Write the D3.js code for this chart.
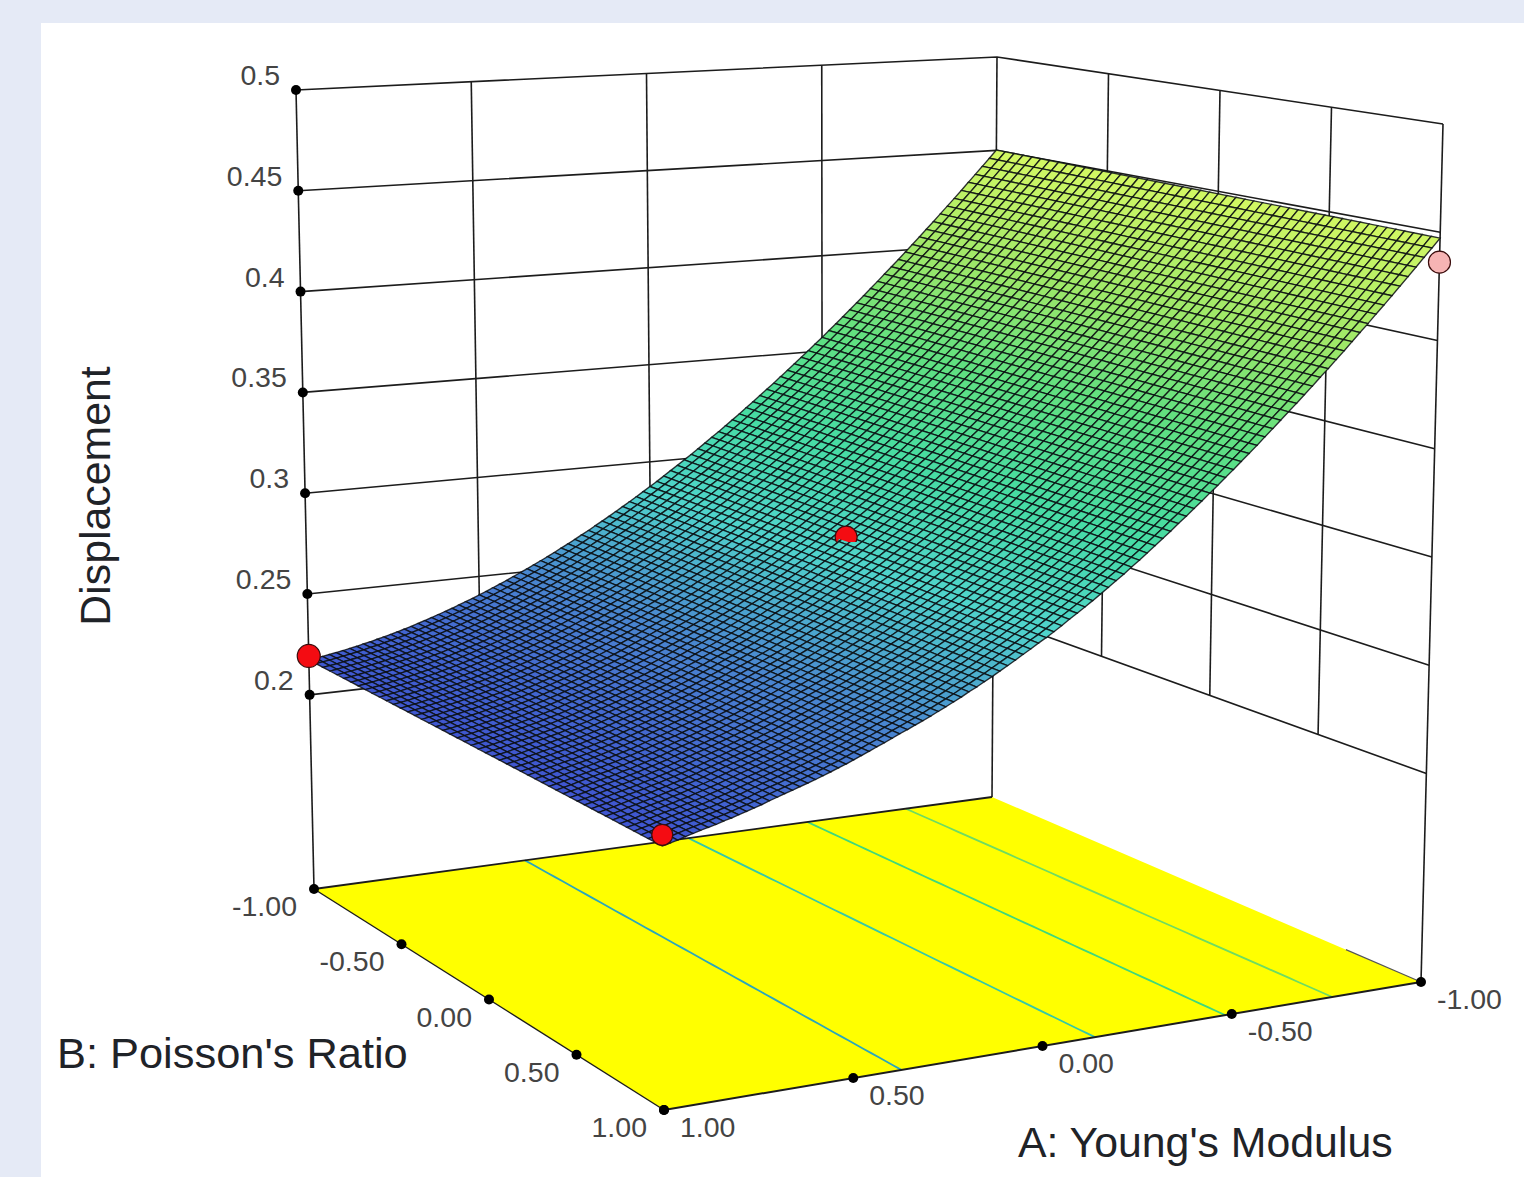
<!DOCTYPE html>
<html><head><meta charset="utf-8">
<script src="https://cdn.jsdelivr.net/npm/d3@7/dist/d3.min.js"></script>
<style>html,body{margin:0;padding:0;background:#e5eaf6;overflow:hidden}svg{display:block}
text{font-family:"Liberation Sans",Arial,sans-serif}</style></head><body>
<svg id="c" width="1524" height="1177"></svg>
<script>
// ---- data ----
const zTicks = [0.2,0.25,0.3,0.35,0.4,0.45,0.5];
const zTickLabels = ["0.2","0.25","0.3","0.35","0.4","0.45","0.5"];
const floorTicks = [-1,-0.5,0,0.5,1];
const floorTickLabels = ["-1.00","-0.50","0.00","0.50","1.00"];
const contourLevels = [0.25,0.3,0.35,0.4];
const contourColors = ["#2aa6bd","#35c8a8","#3fd87c","#6edc62"];
// design points: A, B, Displacement
const pointA = [1,1,0,-1];
const pointB = [-1,1,-0.01,1];
const pointZ = [0.2193,0.2197,0.2969,0.4362];
const pointFill = ["#f40c12","#f40c12","#f40c12","#f6b4b4"];
const pointR = [11.5,10.5,11,11];
// surface height at the B=-1 edge, one value per mesh row, going from A=1 to A=-1
const edgeBackLeft = [.2173,.2178,.2183,.2189,.2195,.2201,.2208,.2215,.2223,.2230,.2239,.2247,.2256,.2265,.2275,.2285,.2296,.2307,.2318,.2330,.2342,.2354,.2367,.2380,.2393,.2407,.2421,.2436,.2451,.2466,.2482,.2498,.2514,.2531,.2548,.2565,.2583,.2602,.2620,.2639,.2659,.2678,.2699,.2719,.2740,.2761,.2783,.2805,.2827,.2850,.2873,.2896,.2920,.2945,.2969,.2994,.3019,.3045,.3071,.3098,.3124,.3152,.3179,.3207,.3236,.3264,.3293,.3323,.3352,.3383,.3413,.3444,.3475,.3507,.3539,.3571,.3604,.3637,.3671,.3705,.3739,.3774,.3809,.3844,.3880,.3916,.3952,.3989,.4026,.4064,.4102,.4140,.4179,.4218,.4257,.4297,.4338,.4378,.4419,.4460,.4502];
// surface height at the B=1 edge, same rows
const edgeFrontRight = [.2150,.2158,.2166,.2176,.2185,.2194,.2202,.2210,.2220,.2228,.2238,.2248,.2258,.2268,.2280,.2291,.2302,.2312,.2323,.2334,.2345,.2357,.2369,.2382,.2394,.2408,.2422,.2436,.2451,.2465,.2480,.2495,.2509,.2524,.2539,.2554,.2571,.2587,.2604,.2621,.2640,.2657,.2676,.2694,.2714,.2734,.2754,.2775,.2795,.2817,.2837,.2859,.2882,.2906,.2929,.2953,.2977,.3002,.3028,.3054,.3079,.3107,.3134,.3162,.3191,.3219,.3248,.3279,.3308,.3339,.3369,.3401,.3432,.3464,.3496,.3529,.3562,.3595,.3630,.3664,.3699,.3734,.3769,.3805,.3841,.3878,.3914,.3952,.3989,.4028,.4067,.4105,.4145,.4184,.4224,.4265,.4306,.4347,.4389,.4430,.4473];
const colorStops = [0.215,0.25,0.285,0.32,0.36,0.40,0.45];
const colorValues = ["#3f55d0","#4a86d0","#50d4cc","#46dca4","#60e080","#9ee868","#d4f864"];
const columnCount = 50;

// ---- box projection (corners of the plotting box on the page) ----
const zFloor = 0.1037, zTop = 0.5;
const box = {
  floor:{lf:[314,889], back:[992,797], front:[664,1110], right:[1421,982]},
  top:{lf:[296,90], back:[997,57], front:[658,170], right:[1443,124]}
};
const uScale = d3.scaleLinear().domain([1,-1]).range([0,1]);
const vScale = d3.scaleLinear().domain([-1,1]).range([0,1]);
const wScale = d3.scaleLinear().domain([zFloor,zTop]).range([0,1]);
function plane(c,u,v){
  const x0=c.lf[0]+(c.back[0]-c.lf[0])*u, y0=c.lf[1]+(c.back[1]-c.lf[1])*u;
  const x1=c.front[0]+(c.right[0]-c.front[0])*u, y1=c.front[1]+(c.right[1]-c.front[1])*u;
  return [x0+(x1-x0)*v, y0+(y1-y0)*v];
}
function project(a,b,z){
  const u=uScale(a), v=vScale(b), w=wScale(z);
  const f=plane(box.floor,u,v), t=plane(box.top,u,v);
  return [f[0]+(t[0]-f[0])*w, f[1]+(t[1]-f[1])*w];
}
const line = d3.line();
const color = d3.scaleLinear().domain(colorStops).range(colorValues).interpolate(d3.interpolateRgb);
const rowA = d3.scaleLinear().domain([0,edgeBackLeft.length-1]).range([1,-1]);
const colB = d3.scaleLinear().domain([0,columnCount]).range([-1,1]);
function height(i,j){ const v=vScale(colB(j)); return edgeBackLeft[i]+(edgeFrontRight[i]-edgeBackLeft[i])*v; }

const svg = d3.select("#c");
svg.append("rect").attr("x",41).attr("y",23).attr("width",1483).attr("height",1154).attr("fill","#fff");
const ink="#1c1c1c";
const walls = svg.append("g").attr("fill","none").attr("stroke",ink).attr("stroke-width",1.6);
const inner = [0.5,0,-0.5];
zTicks.forEach(z=>{
  walls.append("path").attr("d",line([project(1,-1,z),project(-1,-1,z),project(-1,1,z)]));
});
inner.forEach(a=>walls.append("path").attr("d",line([project(a,-1,zTicks[0]),project(a,-1,zTop)])));
inner.forEach(b=>walls.append("path").attr("d",line([project(-1,b,zTicks[0]),project(-1,b,zTop)])));
[[1,-1],[-1,-1],[-1,1]].forEach(([a,b])=>walls.append("path").attr("d",line([project(a,b,zFloor),project(a,b,zTop)])));

// floor
svg.append("path").attr("fill","#ffff00")
  .attr("d",line([project(1,-1,zFloor),project(-1,-1,zFloor),project(-1,1,zFloor),project(1,1,zFloor)])+"Z");
// contours on the floor
contourLevels.forEach((lv,k)=>{
  const pts=d3.range(columnCount+1).map(j=>{
    let i=0; while(i<edgeBackLeft.length-2 && height(i+1,j)<lv) i++;
    const h0=height(i,j),h1=height(i+1,j);
    return project(rowA(i+(lv-h0)/(h1-h0)),colB(j),zFloor);
  });
  svg.append("path").attr("fill","none").attr("stroke",contourColors[k]).attr("stroke-width",1.8).attr("d",line(pts));
});
// floor edges
const edges = svg.append("g").attr("fill","none").attr("stroke",ink);
edges.append("path").attr("stroke-width",1.8).attr("d",line([project(1,-1,zFloor),project(-1,-1,zFloor)]));
edges.append("path").attr("stroke-width",1.4).attr("d",line([project(1,-1,zFloor),project(1,1,zFloor)]));
edges.append("path").attr("stroke-width",2).attr("d",line([project(1,1,zFloor),project(-1,1,zFloor)]));
edges.append("path").attr("stroke-width",1.1).attr("stroke","#555").attr("d",line([project(-1,0.65,zFloor),project(-1,1,zFloor)]));

// surface, far rows first
const cells=[];
for(let i=edgeBackLeft.length-2;i>=0;i--) for(let j=0;j<columnCount;j++) cells.push([i,j]);
const defs=svg.append("defs");
defs.append("filter").attr("id","soft").append("feGaussianBlur").attr("stdDeviation",0.5);
const surf=svg.append("g").attr("filter","url(#soft)");
surf.selectAll("path").data(cells).join("path")
  .attr("d",([i,j])=>line([
    project(rowA(i),colB(j),height(i,j)),
    project(rowA(i+1),colB(j),height(i+1,j)),
    project(rowA(i+1),colB(j+1),height(i+1,j+1)),
    project(rowA(i),colB(j+1),height(i,j+1))])+"Z")
  .attr("fill",([i,j])=>color((height(i,j)+height(i+1,j+1))/2))
  .attr("stroke","#0a0e12").attr("stroke-opacity",0.85).attr("stroke-width",1.35);

// tick dots and labels
const labels=svg.append("g").attr("font-size",28.5).attr("fill","#444");
const dots=svg.append("g").attr("fill","#000");
zTicks.forEach((z,k)=>{
  const p=project(1,-1,z);
  dots.append("circle").attr("cx",p[0]).attr("cy",p[1]).attr("r",5);
  labels.append("text").attr("x",p[0]-16).attr("y",p[1]-5).attr("text-anchor","end").text(zTickLabels[k]);
});
floorTicks.forEach((b,k)=>{
  const p=project(1,b,zFloor);
  dots.append("circle").attr("cx",p[0]).attr("cy",p[1]).attr("r",5);
  labels.append("text").attr("x",p[0]-17).attr("y",p[1]+27).attr("text-anchor","end").text(floorTickLabels[k]);
});
floorTicks.slice().reverse().forEach((a,k)=>{
  const p=project(a,1,zFloor);
  dots.append("circle").attr("cx",p[0]).attr("cy",p[1]).attr("r",5);
  labels.append("text").attr("x",p[0]+16).attr("y",p[1]+27).text(floorTickLabels[floorTicks.length-1-k]);
});

// design points; the centre one is mostly under the surface
pointA.forEach((a,k)=>{
  const p=project(a,pointB[k],pointZ[k]);
  const c=svg.append("circle").attr("cx",p[0]).attr("cy",p[1]).attr("r",pointR[k])
    .attr("fill",pointFill[k]).attr("stroke","#3a0c0c").attr("stroke-width",1.2);
  if(a===0){
    defs.append("clipPath").attr("id","under").append("path")
      .attr("d",`M${p[0]-14},${p[1]-14}H${p[0]+14}V${p[1]+5}H${p[0]+2}L${p[0]-7},${p[1]+2}L${p[0]-12},${p[1]+9}L${p[0]-14},${p[1]+9}Z`);
    c.attr("clip-path","url(#under)");
  }
});

// axis titles
const titles=svg.append("g").attr("fill","#1f2328");
titles.append("text").attr("font-size",43.4).attr("x",57).attr("y",1068).text("B: Poisson's Ratio");
titles.append("text").attr("font-size",42.8).attr("x",1018).attr("y",1157).text("A: Young's Modulus");
titles.append("text").attr("font-size",42.8).attr("transform","translate(110,496) rotate(-90)").attr("text-anchor","middle").text("Displacement");
</script>
</body></html>
